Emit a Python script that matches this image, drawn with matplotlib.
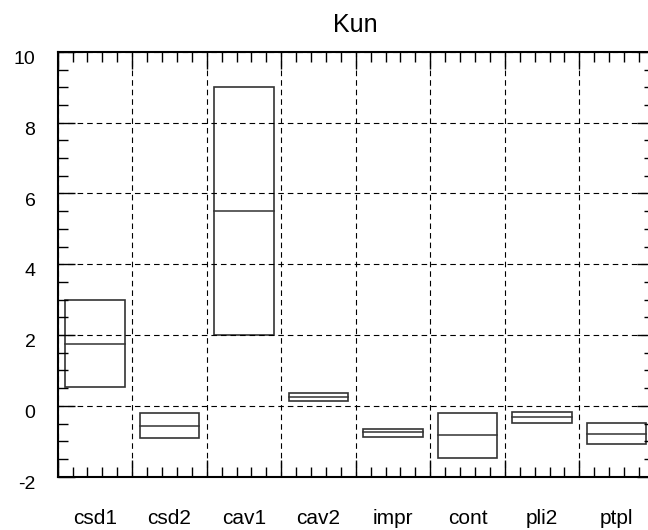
import matplotlib
matplotlib.use('Agg')
import matplotlib.pyplot as plt
import matplotlib.transforms as mtransforms
from matplotlib.patches import Rectangle
from matplotlib.ticker import MultipleLocator

# ── Data ──────────────────────────────────────────────────────
categories = ['csd1', 'csd2', 'cav1', 'cav2', 'impr', 'cont', 'pli2', 'ptpl']
box_top    = [3.0, -0.21, 9.0, 0.36, -0.66, -0.21, -0.18, -0.49]
box_median = [1.74, -0.56, 5.5, 0.26, -0.74, -0.82, -0.32, -0.79]
box_bottom = [0.52, -0.91, 2.0, 0.15, -0.87, -1.46, -0.49, -1.08]

plt.rcParams['font.family'] = ['Liberation Sans', 'DejaVu Sans']
plt.rcParams['axes.unicode_minus'] = False

fig = plt.figure(figsize=(6.48, 5.30), dpi=100)
# right edge runs slightly past the figure, as in the cropped original
ax = fig.add_axes([0.089, 0.1006, 0.92, 0.8015])

box_w = 0.8
for i, (top, med, bot) in enumerate(zip(box_top, box_median, box_bottom)):
    left = i + (1 - box_w) / 2
    ax.add_patch(Rectangle((left, bot), box_w, top - bot,
                           facecolor='none', edgecolor='#333333', linewidth=1.2))
    ax.plot([left, left + box_w], [med, med], color='#333333', linewidth=1.1)

ax.set_xlim(0, len(categories))
ax.set_ylim(-2, 10)

ax.xaxis.set_major_locator(MultipleLocator(1))
ax.xaxis.set_minor_locator(MultipleLocator(0.2))
ax.set_yticks([-2, 0, 2, 4, 6, 8, 10])
ax.yaxis.set_minor_locator(MultipleLocator(0.5))

ax.tick_params(which='both', direction='in', top=True, right=True,
               color='black', width=1.0)
ax.tick_params(which='major', length=12)
ax.tick_params(which='minor', length=7)
ax.tick_params(axis='y', which='major', labelsize=14, pad=16)
ax.tick_params(axis='x', which='major', labelbottom=False)

# y labels sit a little below their tick line
shift = mtransforms.ScaledTranslation(0, -4 / 72, fig.dpi_scale_trans)
for tick in ax.yaxis.get_major_ticks():
    tick.label1.set_transform(tick.label1.get_transform() + shift)

# category labels in the middle of each cell
for i, name in enumerate(categories):
    ax.annotate(name, xy=(i + 0.5, 0), xycoords=('data', 'axes fraction'),
                xytext=(0, -34), textcoords='offset points',
                ha='center', va='baseline', fontsize=15)

ax.grid(which='major', color='black', linestyle=(0, (5, 3.6)), linewidth=0.8)
for s in ax.spines.values():
    s.set_linewidth(1.5)

ax.set_title('Kun', fontsize=18, pad=14)

fig.savefig('out.png', dpi=100, facecolor='white')
print("Saved → out.png")
